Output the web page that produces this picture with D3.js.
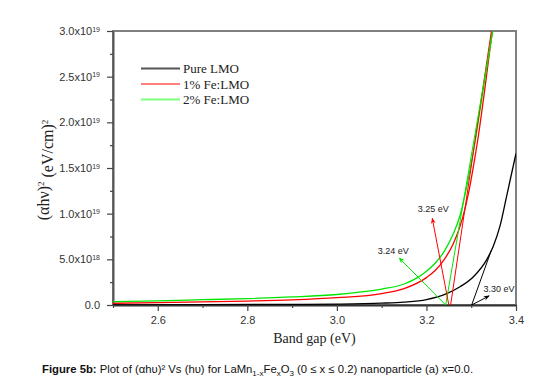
<!DOCTYPE html>
<html>
<head>
<meta charset="utf-8">
<script src="https://cdn.jsdelivr.net/npm/d3@7"></script>
<style>
  body { margin: 0; background: #fff; }
  svg { display: block; }
</style>
</head>
<body>
<div id="chart"></div>
<script>
// values (x in eV, y in (eV/cm)^2)
const pureX = [2.5, 2.7, 2.9, 3.0, 3.1, 3.15, 3.2, 3.245, 3.275, 3.305, 3.335, 3.349, 3.364, 3.379, 3.4]
const pureY = [2e16, 4e16, 7e16, 1.0e17, 2.0e17, 3.2e17, 6.0e17, 1.25e18, 2.0e18, 3.1e18, 5.0e18, 6.4e18, 8.6e18, 1.19e19, 1.66e19]

const fe1X = [2.5, 2.6, 2.7, 2.8, 2.9, 3.0, 3.1, 3.15, 3.2, 3.22, 3.24, 3.26, 3.28, 3.295, 3.305, 3.315, 3.33, 3.347]
const fe1Y = [1.9e17, 2.6e17, 3.4e17, 4.3e17, 5.6e17, 8.0e17, 1.25e18, 1.8e18, 3.0e18, 3.8e18, 5.0e18, 6.7e18, 9.4e18, 1.25e19, 1.52e19, 1.82e19, 2.35e19, 3.0e19]

const fe2X = [2.5, 2.6, 2.7, 2.8, 2.9, 3.0, 3.05, 3.1, 3.15, 3.18, 3.2, 3.22, 3.24, 3.26, 3.275, 3.29, 3.30, 3.31, 3.328, 3.348]
const fe2Y = [3.6e17, 4.6e17, 5.8e17, 7.0e17, 8.8e17, 1.15e18, 1.4e18, 1.75e18, 2.3e18, 3.0e18, 3.7e18, 4.6e18, 5.9e18, 7.8e18, 9.8e18, 1.3e19, 1.55e19, 1.83e19, 2.4e19, 3.0e19]

const seriesNames = ["Pure LMO", "1% Fe:LMO", "2% Fe:LMO"]
const seriesColors = ["#000000", "#ff0000", "#00e600"]
const legendColors = ["#555555", "#ff0000", "#7dff7d"]

// linear extrapolations to the energy axis
const tangents = [
  { color: "#000000", pts: [[3.301, 0], [3.345, 6.0e18]] },
  { color: "#ff0000", pts: [[3.254, 0], [3.345, 3.0e19]] },
  { color: "#00e600", pts: [[3.243, 0], [3.348, 3.0e19]] }
]

// band gap labels with arrows
const notes = [
  { label: "3.30 eV", color: "#000000", from: [3.301, 0], to: [3.340, 1.0e18], text: [3.362, 1.42e18] },
  { label: "3.25 eV", color: "#ff0000", from: [3.250, 0], to: [3.213, 9.5e18], text: [3.215, 1.02e19] },
  { label: "3.24 eV", color: "#00e600", from: [3.243, 0], to: [3.139, 5.15e18], text: [3.126, 5.58e18] }
]

const xTicks = [2.6, 2.8, 3.0, 3.2, 3.4]
const xMinor = [2.5, 2.7, 2.9, 3.1, 3.3]
const yTicks = [0, 5e18, 1e19, 1.5e19, 2e19, 2.5e19, 3e19]
const yMinor = [2.5e18, 7.5e18, 1.25e19, 1.75e19, 2.25e19, 2.75e19]

const width = 559, height = 383
const margin = { top: 31, right: 43, bottom: 78, left: 113 }

const svg = d3.select("#chart").append("svg")
  .attr("width", width)
  .attr("height", height)

const x = d3.scaleLinear().domain([2.5, 3.4]).range([margin.left, width - margin.right])
const y = d3.scaleLinear().domain([0, 3e19]).range([height - margin.bottom, margin.top])

const plot = svg.append("g")

// clip curves to plot area
svg.append("clipPath").attr("id", "clip")
  .append("rect")
  .attr("x", margin.left).attr("y", margin.top)
  .attr("width", x.range()[1] - margin.left)
  .attr("height", y.range()[0] - margin.top)

// frame
plot.append("rect")
  .attr("x", margin.left).attr("y", margin.top)
  .attr("width", x.range()[1] - margin.left)
  .attr("height", y.range()[0] - margin.top)
  .attr("fill", "none")
  .attr("stroke", "#808080")
  .attr("stroke-width", 2)

// x axis
const xAxis = svg.append("g")
  .attr("transform", `translate(0,${y(0)})`)
  .call(d3.axisBottom(x).tickValues(xTicks).tickFormat(d3.format(".1f")).tickSize(6).tickSizeOuter(0))
xAxis.append("g")
  .call(d3.axisBottom(x).tickValues(xMinor).tickFormat("").tickSize(3).tickSizeOuter(0))
  .select(".domain").remove()
xAxis.select(".domain").attr("stroke", "#333").attr("stroke-width", 2)
xAxis.selectAll(".tick line").attr("stroke", "#444").attr("stroke-width", 1.2)
xAxis.selectAll(".tick text")
  .attr("fill", "#333")
  .attr("dy", "0.95em")
  .style("font", "11px 'Liberation Sans', Arial, sans-serif")

// y axis
const expLabel = (g) => {
  g.selectAll(".tick text").each(function(d) {
    const t = d3.select(this).text("")
    if (d === 0) { t.text("0.0"); return }
    const e = Math.floor(Math.log10(d))
    t.append("tspan").text((d / Math.pow(10, e)).toFixed(1) + "x10")
    t.append("tspan").attr("dy", "-0.5em").style("font-size", "7px").text(e)
  })
}
const yAxis = svg.append("g")
  .attr("transform", `translate(${margin.left},0)`)
  .call(d3.axisLeft(y).tickValues(yTicks).tickSize(6).tickSizeOuter(0))
  .call(expLabel)
yAxis.append("g")
  .call(d3.axisLeft(y).tickValues(yMinor).tickFormat("").tickSize(3).tickSizeOuter(0))
  .select(".domain").remove()
yAxis.select(".domain").attr("stroke", "#555").attr("stroke-width", 2)
yAxis.selectAll(".tick line").attr("stroke", "#444").attr("stroke-width", 1.2)
yAxis.selectAll(".tick text")
  .attr("fill", "#333")
  .attr("x", -13)
  .style("font", "11px 'Liberation Sans', Arial, sans-serif")

// curves
const line = d3.line().x(d => x(d[0])).y(d => y(d[1])).curve(d3.curveMonotoneX)
const curves = [
  d3.zip(pureX, pureY),
  d3.zip(fe1X, fe1Y),
  d3.zip(fe2X, fe2Y)
]
const curveLayer = svg.append("g").attr("clip-path", "url(#clip)")
curves.forEach((pts, i) => {
  curveLayer.append("path")
    .datum(pts)
    .attr("fill", "none")
    .attr("stroke", seriesColors[i])
    .attr("stroke-width", 1.3)
    .attr("d", line)
})

const straight = d3.line().x(d => x(d[0])).y(d => y(d[1]))
tangents.forEach(t => {
  curveLayer.append("path")
    .datum(t.pts)
    .attr("fill", "none")
    .attr("stroke", t.color)
    .attr("stroke-width", 1)
    .attr("d", straight)
})

// arrows
const defs = svg.append("defs")
notes.forEach((n, i) => {
  defs.append("marker")
    .attr("id", `arrow${i}`)
    .attr("viewBox", "0 0 10 10")
    .attr("refX", 9).attr("refY", 5)
    .attr("markerWidth", 6).attr("markerHeight", 6)
    .attr("orient", "auto")
    .append("path")
    .attr("d", "M0,1L10,5L0,9L3,5Z")
    .attr("fill", n.color)

  svg.append("line")
    .attr("x1", x(n.from[0])).attr("y1", y(n.from[1]))
    .attr("x2", x(n.to[0])).attr("y2", y(n.to[1]))
    .attr("stroke", n.color)
    .attr("stroke-width", 1)
    .attr("marker-end", `url(#arrow${i})`)

  svg.append("text")
    .attr("x", x(n.text[0])).attr("y", y(n.text[1]))
    .attr("text-anchor", "middle")
    .attr("fill", "#222")
    .style("font", "9px 'Liberation Sans', Arial, sans-serif")
    .text(n.label)
})

// legend
const legend = svg.append("g").attr("transform", "translate(141,68.5)")
seriesNames.forEach((name, i) => {
  const row = legend.append("g").attr("transform", `translate(0,${i * 15.5})`)
  row.append("line")
    .attr("x1", 0).attr("x2", 39)
    .attr("stroke", legendColors[i])
    .attr("stroke-width", i === 1 ? 1.2 : 2)
  row.append("text")
    .attr("x", 42).attr("y", 4.5)
    .attr("fill", "#222")
    .style("font", "13px 'Liberation Serif', 'Times New Roman', serif")
    .text(name)
})

// axis titles
const yTitle = svg.append("text")
  .attr("transform", `translate(49,${(margin.top + y(0)) / 2 + 2}) rotate(-90)`)
  .attr("text-anchor", "middle")
  .attr("fill", "#222")
  .style("font", "16px 'Liberation Serif', 'Times New Roman', serif")
yTitle.append("tspan").text("(αhν)")
yTitle.append("tspan").attr("dy", "-0.6em").style("font-size", "9px").text("2")
yTitle.append("tspan").attr("dy", "0.6em").text(" (eV/cm)")
yTitle.append("tspan").attr("dy", "-0.6em").style("font-size", "9px").text("2")

svg.append("text")
  .attr("x", (margin.left + x.range()[1]) / 2)
  .attr("y", 343)
  .attr("text-anchor", "middle")
  .attr("fill", "#222")
  .style("font", "14px 'Liberation Serif', 'Times New Roman', serif")
  .text("Band gap (eV)")

// caption
const cap = svg.append("text")
  .attr("x", 42).attr("y", 373)
  .attr("fill", "#111")
  .style("font", "11.3px 'Liberation Sans', Arial, sans-serif")
cap.append("tspan").style("font-weight", "bold").text("Figure 5b:")
cap.append("tspan").text(" Plot of (αhυ)² Vs (hυ) for LaMn")
cap.append("tspan").attr("dy", 3).style("font-size", "8px").text("1-x")
cap.append("tspan").attr("dy", -3).text("Fe")
cap.append("tspan").attr("dy", 3).style("font-size", "8px").text("x")
cap.append("tspan").attr("dy", -3).text("O")
cap.append("tspan").attr("dy", 3).style("font-size", "8px").text("3")
cap.append("tspan").attr("dy", -3).text(" (0 ≤ x ≤ 0.2) nanoparticle (a) x=0.0.")
</script>
</body>
</html>
